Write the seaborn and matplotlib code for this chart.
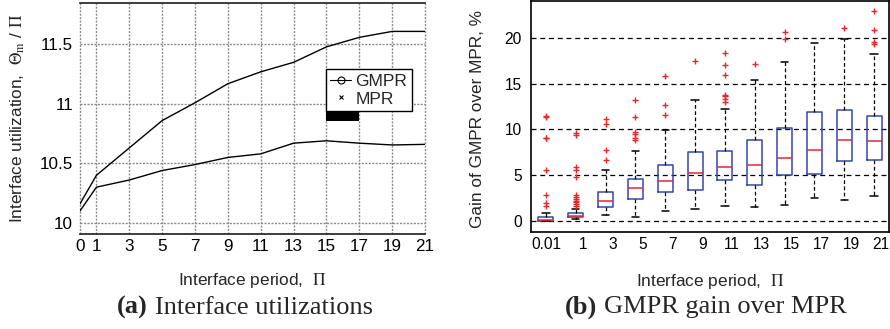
import numpy as np
import pandas as pd
import matplotlib
matplotlib.use("Agg")
import matplotlib.pyplot as plt
import matplotlib.transforms as mtransforms
from matplotlib.lines import Line2D
from matplotlib.patches import Rectangle
import seaborn as sns

# ---------------- data: panel (a) ----------------
period_a = [0, 1, 3, 5, 7, 9, 11, 13, 15, 17, 19, 21]
gmpr_util = [10.16, 10.40, 10.63, 10.86, 11.01, 11.17, 11.27, 11.35, 11.48, 11.56, 11.61, 11.61]
mpr_util = [10.10, 10.30, 10.36, 10.44, 10.49, 10.55, 10.58, 10.67, 10.69, 10.67, 10.655, 10.66]
ytick_a = [10, 10.5, 11, 11.5]
ytick_a_labels = ["10", "10.5", "11", "11.5"]

# ---------------- data: panel (b) ----------------
period_b = ["0.01", "1", "3", "5", "7", "9", "11", "13", "15", "17", "19", "21"]
whisker_low = [0.0, 0.22, 0.62, 0.36, 1.05, 1.3, 1.6, 1.45, 1.75, 2.44, 2.3, 2.73]
q1 = [0.02, 0.37, 1.45, 2.36, 3.13, 3.35, 4.5, 3.96, 4.95, 5.16, 6.55, 6.62]
median = [0.07, 0.55, 2.18, 3.56, 4.29, 5.27, 5.85, 6.15, 6.84, 7.75, 8.8, 8.73]
q3 = [0.4, 0.82, 3.16, 4.55, 6.15, 7.53, 7.64, 8.87, 10.2, 11.93, 12.15, 11.42]
whisker_high = [0.85, 1.3, 5.56, 7.6, 9.9, 13.2, 12.2, 15.4, 17.35, 19.5, 19.93, 18.2]
outliers = [
    [1.65, 1.9, 2.8, 5.6, 9.0, 9.1, 11.4, 11.5],
    [1.6, 1.8, 2.0, 2.2, 2.4, 2.6, 2.8, 4.8, 5.6, 5.9, 9.4, 9.6],
    [6.6, 7.7, 10.6, 11.1],
    [8.8, 9.0, 9.5, 9.7, 11.4, 13.2],
    [11.6, 12.7, 15.8],
    [17.5],
    [13.0, 13.3, 13.6, 13.8, 16.0, 17.0, 18.4],
    [17.1],
    [19.9, 20.6],
    [],
    [21.1],
    [19.3, 19.6, 20.9, 22.9],
]
ytick_b = [0, 5, 10, 15, 20]

# ---------------- style ----------------
sns.set_theme(style="white")
plt.rcParams['font.family'] = ['Liberation Sans', 'DejaVu Sans']
plt.rcParams['mathtext.fontset'] = 'stix'

W, H = 890, 329
fig = plt.figure(figsize=(W / 100, H / 100), dpi=100)


def ax_rect(x0, y0, x1, y1):
    return [x0 / W, 1 - y1 / H, (x1 - x0) / W, (y1 - y0) / H]


ax1 = fig.add_axes(ax_rect(80, 3, 425, 234))
ax2 = fig.add_axes(ax_rect(531, 0.5, 889, 232.3))

# ---------------- panel (a) ----------------
df_a = pd.DataFrame({
    "period": period_a * 2,
    "util": gmpr_util + mpr_util,
    "method": ["GMPR"] * len(period_a) + ["MPR"] * len(period_a),
})
sns.lineplot(data=df_a, x="period", y="util", units="method", estimator=None,
             color="black", linewidth=1.0, ax=ax1, legend=False, zorder=3)
ax1.set_xlim(0, 21)
ax1.set_ylim(9.906, 11.849)
ax1.set_xticks(period_a)
ax1.set_xticklabels([str(p) for p in period_a])
ax1.set_yticks(ytick_a)
ax1.set_yticklabels(ytick_a_labels)
for s in ["left", "right"]:
    ax1.spines[s].set_visible(False)
ax1.tick_params(axis="both", labelsize=12.3, length=0, colors="black")
ax1.tick_params(axis="y", pad=5.0)
ax1.set_xlabel(r"Interface period,  $\Pi$", fontsize=12.4)
ax1.set_ylabel(r"Interface utilization,  $\Theta_{\mathrm{m}}$ / $\Pi$", fontsize=12.4)
ax1.xaxis.set_label_coords(0.5, -0.159)
ax1.yaxis.set_label_coords(-0.155, 0.5)

# dotted grid at the tick positions
ax1.vlines(period_a, 0, 1, transform=ax1.get_xaxis_transform(), colors="#8c8c8c",
           linestyles=[(0, (1.5, 1.0))], linewidth=1.0, zorder=2.5, clip_on=False)
ax1.hlines(ytick_a, 0, 1, transform=ax1.get_yaxis_transform(), colors="#8c8c8c",
           linestyles=[(0, (1.5, 1.0))], linewidth=1.0, zorder=2.5, clip_on=False)

handles = [
    Line2D([], [], color="black", lw=0.8, marker="o", mfc="none", ms=5, mew=0.8),
    Line2D([], [], color="black", lw=0, marker="x", ms=3.5, mew=0.8),
]
leg = ax1.legend(handles, ["GMPR", "MPR"], loc="upper left", bbox_to_anchor=(0.713, 0.713),
                 borderaxespad=0, frameon=True, fancybox=False, edgecolor="black",
                 framealpha=1, fontsize=12.5, handlelength=1.2, handletextpad=0.25,
                 labelspacing=0.15, borderpad=0.25)
leg.get_frame().set_linewidth(1.0)
# legend rendering artefact of the original
ax1.add_patch(Rectangle((0.713, 0.4905), 0.0966, 0.0495, transform=ax1.transAxes,
                        facecolor="black", edgecolor="none", zorder=2.8))

# ---------------- panel (b) ----------------
rows = []
for lab, lo, a, m, b, hi in zip(period_b, whisker_low, q1, median, q3, whisker_high):
    for v in (lo, a, m, b, hi):
        rows.append((lab, v))
df_b = pd.DataFrame(rows, columns=["period", "gain"])

out_rows = [(lab, v) for lab, vals in zip(period_b, outliers) for v in vals]
df_o = pd.DataFrame(out_rows, columns=["period", "gain"])

ax2.set_axisbelow(True)
sns.boxplot(data=df_b, x="period", y="gain", order=period_b, whis=(0, 100),
            showfliers=False, width=0.5, fill=False, color="#3545b0", linewidth=1.1,
            ax=ax2,
            medianprops=dict(color="#e8282a", linewidth=1.1),
            whiskerprops=dict(color="black", linestyle=(0, (3, 2)), linewidth=0.9),
            capprops=dict(color="black", linewidth=1.1))
sns.stripplot(data=df_o, x="period", y="gain", order=period_b, jitter=False,
              marker="+", color="#e8282a", size=4.5, linewidth=1.0, ax=ax2)

ax2.set_xlim(-0.5, 11.5)
ax2.set_ylim(-1.27, 24.1)
ax2.set_yticks(ytick_b)
ax2.set_yticklabels([str(t) for t in ytick_b])
for s in ax2.spines.values():
    s.set_visible(True)
    s.set_color("black")
    s.set_linewidth(1.2)
ax2.tick_params(axis="both", labelsize=11.2, length=0, colors="black")
ax2.tick_params(axis="y", pad=6.5)
ax2.set_xlabel(r"Interface period,  $\Pi$", fontsize=12.4)
ax2.set_ylabel("Gain of GMPR over MPR, %", fontsize=12.4)
ax2.xaxis.set_label_coords(0.5, -0.170)
ax2.yaxis.set_label_coords(-0.128, 0.49)
ax2.xaxis.grid(False)
ax2.yaxis.grid(True, color="black", linestyle=(0, (4, 3)), linewidth=0.9)

shift = mtransforms.ScaledTranslation(7 / 100, 0, fig.dpi_scale_trans)
for lbl in ax2.get_xticklabels()[1:]:
    lbl.set_transform(lbl.get_transform() + shift)

# ---------------- captions ----------------
cy = 1 - 307.5 / H
fig.text(116.7 / W, cy, "(a)", fontfamily="Liberation Serif", fontweight="bold",
         fontsize=19, ha="left", va="center")
fig.text(155 / W, cy, "Interface utilizations", fontfamily="Liberation Serif",
         fontsize=19, ha="left", va="center")
fig.text(565 / W, cy, "(b)", fontfamily="Liberation Serif", fontweight="bold",
         fontsize=19, ha="left", va="center")
fig.text(604.3 / W, cy, "GMPR gain over MPR", fontfamily="Liberation Serif",
         fontsize=19, ha="left", va="center")

fig.savefig("out.png", dpi=100)
